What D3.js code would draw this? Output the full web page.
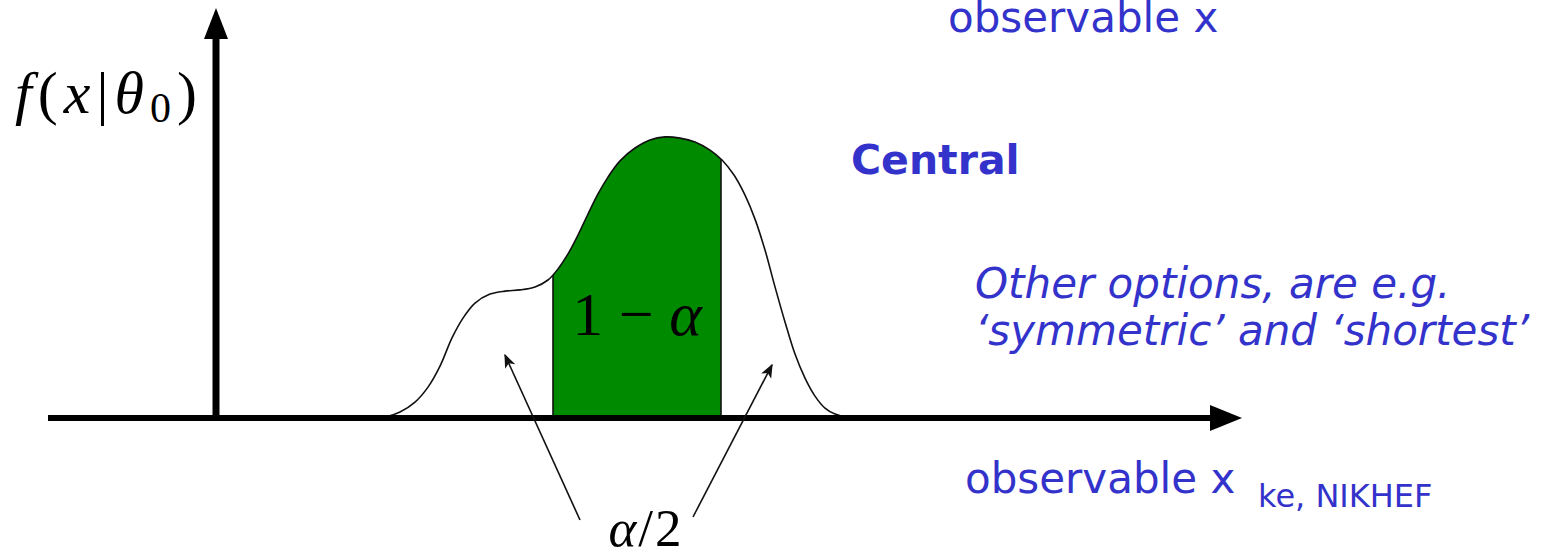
<!DOCTYPE html>
<html>
<head>
<meta charset="utf-8">
<script src="https://cdn.jsdelivr.net/npm/d3@7"></script>
<style>
  html, body { margin: 0; padding: 0; background: #fff; }
  svg { display: block; }
</style>
</head>
<body>
<svg id="chart" width="1546" height="558"></svg>
<script>
// ---- data (arbitrary units: x = observable, y = f(x|theta0)) ----
const curveX = [2.90, 3.38, 3.68, 3.98, 4.24, 4.48, 4.72, 4.94, 5.18, 5.48, 5.78, 6.08, 6.38, 6.64, 6.84, 7.04, 7.24, 7.44, 7.64, 7.84, 8.08, 8.38, 8.68, 8.98, 9.28, 9.58, 9.88, 10.12, 10.36, 10.58, 10.78, 10.98, 11.18, 11.38, 11.58, 11.78, 11.98, 12.18, 12.38, 12.64, 13.00];
const curveY = [0.000, 0.003, 0.020, 0.053, 0.103, 0.173, 0.267, 0.333, 0.383, 0.413, 0.423, 0.427, 0.437, 0.460, 0.497, 0.547, 0.610, 0.680, 0.747, 0.803, 0.857, 0.900, 0.927, 0.937, 0.933, 0.920, 0.893, 0.860, 0.810, 0.743, 0.663, 0.560, 0.437, 0.320, 0.213, 0.133, 0.073, 0.033, 0.013, 0.003, 0.000];
const intervalBounds = [6.74, 10.10];          // central 1-alpha interval
const xAxisExtent = [-3.36, 20.52];            // horizontal axis, data units
const yAxisExtent = [0, 1.367];                // vertical axis, data units
const arrowLeft  = [[7.28, -0.34], [5.78, 0.21]];   // alpha/2 pointer, from -> to
const arrowRight = [[9.54, -0.33], [11.12, 0.177]];
const textTop = "observable x";
const textCentral = "Central";
const textOther = ["Other options, are e.g.", "‘symmetric’ and ‘shortest’"];
const textBottom = "observable x";
const textFooter = "ke, NIKHEF";

// ---- scales ----
const svg = d3.select("#chart");
const x = d3.scaleLinear().domain([0, 20]).range([216, 1216]);
const y = d3.scaleLinear().domain([0, 1]).range([418, 118]);

const pts = curveX.map((v, i) => [v, curveY[i]]);
const blue = "#3333cc";
const mathFont = "'Liberation Serif', 'Times New Roman', serif";
const sansFont = "'DejaVu Sans', Verdana, sans-serif";

// ---- distribution ----
const curveType = d3.curveCatmullRom.alpha(0.5);
const area = d3.area().x(d => x(d[0])).y0(y(0)).y1(d => y(d[1])).curve(curveType);
const line = d3.line().x(d => x(d[0])).y(d => y(d[1])).curve(curveType);

const defs = svg.append("defs");
defs.append("clipPath").attr("id", "intervalClip")
  .append("rect")
  .attr("x", x(intervalBounds[0])).attr("width", x(intervalBounds[1]) - x(intervalBounds[0]))
  .attr("y", 0).attr("height", 558);
defs.append("clipPath").attr("id", "underCurve")
  .append("path").attr("d", area(pts));

svg.append("path").attr("d", area(pts))
  .attr("fill", "#008a00").attr("clip-path", "url(#intervalClip)");

svg.append("g").attr("clip-path", "url(#underCurve)")
  .selectAll("line").data(intervalBounds).join("line")
  .attr("x1", d => x(d)).attr("x2", d => x(d))
  .attr("y1", y(0)).attr("y2", y(1.2))
  .attr("stroke", "#111").attr("stroke-width", 1.6);

svg.append("path").attr("d", line(pts))
  .attr("fill", "none").attr("stroke", "#111").attr("stroke-width", 1.6);

// ---- axes (thick arrows) ----
const axisW = 6;
svg.append("line")
  .attr("x1", x(xAxisExtent[0])).attr("x2", x(xAxisExtent[1]) - 28)
  .attr("y1", y(0)).attr("y2", y(0))
  .attr("stroke", "#000").attr("stroke-width", axisW);
svg.append("path")
  .attr("d", `M${x(xAxisExtent[1])},${y(0)} L${x(xAxisExtent[1]) - 32},${y(0) - 13} L${x(xAxisExtent[1]) - 32},${y(0) + 13} Z`)
  .attr("fill", "#000");

svg.append("line")
  .attr("x1", x(0)).attr("x2", x(0))
  .attr("y1", y(yAxisExtent[0]) + axisW / 2).attr("y2", y(yAxisExtent[1]) + 28)
  .attr("stroke", "#000").attr("stroke-width", 7);
svg.append("path")
  .attr("d", `M${x(0)},${y(yAxisExtent[1])} L${x(0) - 12},${y(yAxisExtent[1]) + 31} L${x(0) + 12},${y(yAxisExtent[1]) + 31} Z`)
  .attr("fill", "#000");

// ---- alpha/2 pointer arrows ----
defs.append("marker").attr("id", "thinHead")
  .attr("viewBox", "0 0 10 10").attr("refX", 9).attr("refY", 5)
  .attr("markerWidth", 14).attr("markerHeight", 14).attr("markerUnits", "userSpaceOnUse")
  .attr("orient", "auto")
  .append("path").attr("d", "M0,1 L10,5 L0,9 L2.5,5 Z").attr("fill", "#111");

[arrowLeft, arrowRight].forEach(a => {
  svg.append("line")
    .attr("x1", x(a[0][0])).attr("y1", y(a[0][1]))
    .attr("x2", x(a[1][0])).attr("y2", y(a[1][1]))
    .attr("stroke", "#111").attr("stroke-width", 1.6)
    .attr("marker-end", "url(#thinHead)");
});

// ---- math labels ----
const fl = svg.append("text")
  .attr("x", 15).attr("y", 113)
  .attr("font-family", mathFont).attr("font-size", 60).attr("fill", "#000")
  .attr("textLength", 182).attr("lengthAdjust", "spacing");
fl.append("tspan").attr("font-style", "italic").text("f");
fl.append("tspan").text("(");
fl.append("tspan").attr("font-style", "italic").text("x");
fl.append("tspan").text("|");
fl.append("tspan").attr("font-style", "italic").text("θ");
fl.append("tspan").attr("font-size", 42).attr("dy", 9).text("0");
fl.append("tspan").attr("dy", -9).text(")");

const il = svg.append("text")
  .attr("x", (x(intervalBounds[0]) + x(intervalBounds[1])) / 2).attr("y", 335)
  .attr("text-anchor", "middle")
  .attr("font-family", mathFont).attr("font-size", 62).attr("fill", "#000");
il.append("tspan").text("1 − ");
il.append("tspan").attr("font-style", "italic").text("α");

const tl = svg.append("text")
  .attr("x", 646).attr("y", 546)
  .attr("text-anchor", "middle")
  .attr("font-family", mathFont).attr("font-size", 53).attr("fill", "#000")
  .attr("letter-spacing", 2);
tl.append("tspan").attr("font-style", "italic").text("α");
tl.append("tspan").text("/2");

// ---- slide texts ----
svg.append("text").attr("x", 948).attr("y", 32)
  .attr("font-family", sansFont).attr("font-size", 42).attr("fill", blue)
  .text(textTop);
svg.append("text").attr("x", 851).attr("y", 174)
  .attr("font-family", sansFont).attr("font-size", 41).attr("font-weight", "bold").attr("fill", blue)
  .text(textCentral);
svg.append("g").selectAll("text").data(textOther).join("text")
  .attr("x", 975).attr("y", (d, i) => 298 + i * 47)
  .attr("font-family", sansFont).attr("font-size", 42).attr("font-style", "italic").attr("fill", blue)
  .text(d => d);
svg.append("text").attr("x", 965).attr("y", 493)
  .attr("font-family", sansFont).attr("font-size", 42).attr("fill", blue)
  .text(textBottom);
svg.append("text").attr("x", 1258).attr("y", 507)
  .attr("font-family", sansFont).attr("font-size", 32).attr("fill", blue)
  .text(textFooter);
</script>
</body>
</html>
